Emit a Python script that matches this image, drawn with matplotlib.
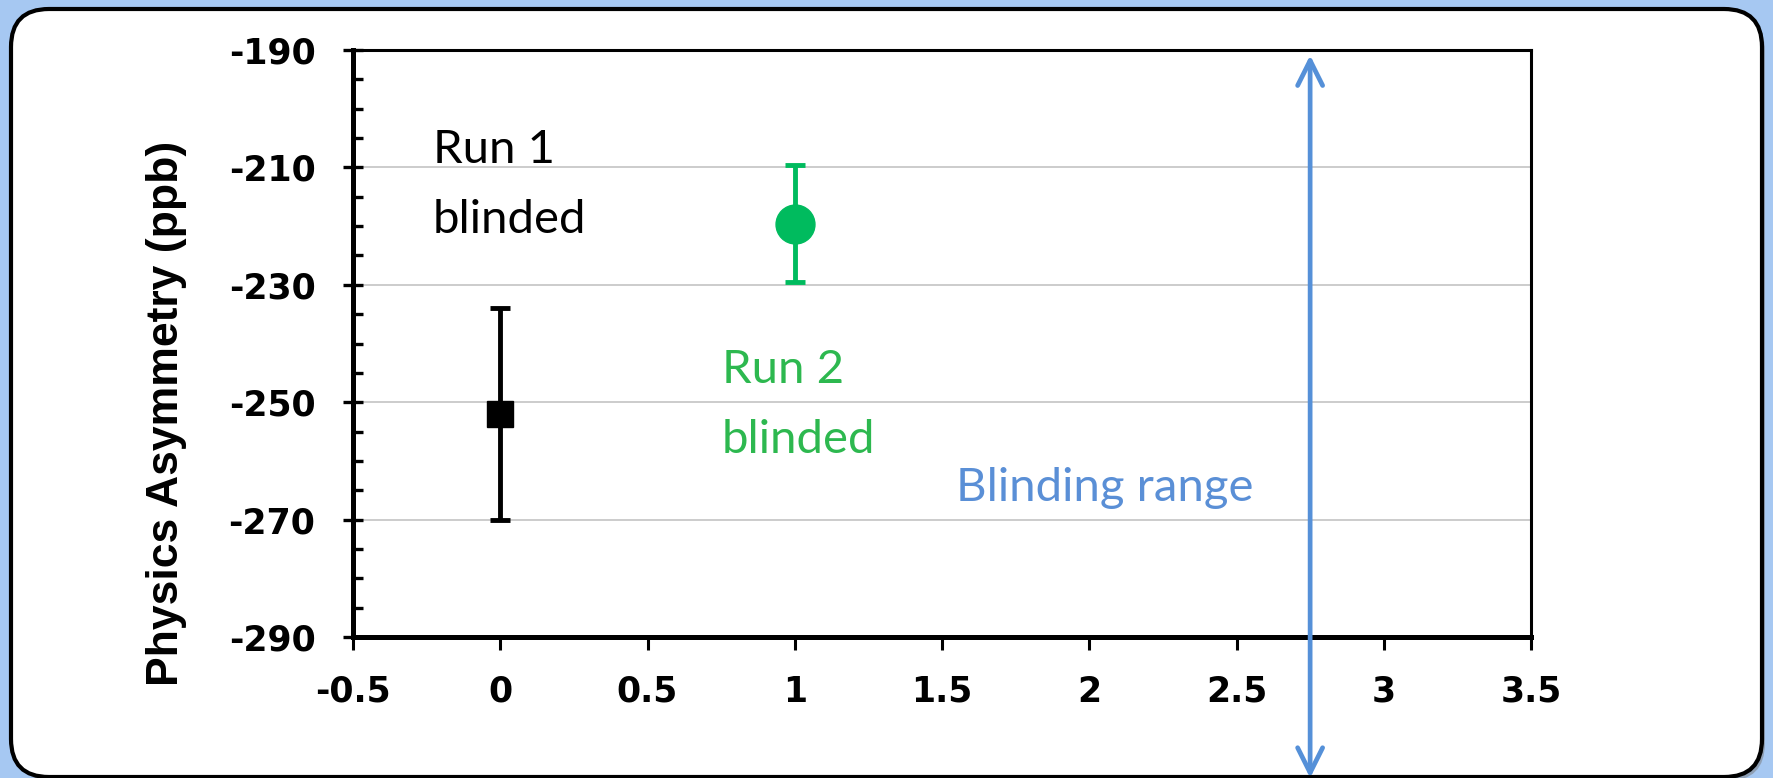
import matplotlib.pyplot as plt
from matplotlib.patches import FancyBboxPatch
from matplotlib.transforms import IdentityTransform
from matplotlib.ticker import MultipleLocator

plt.rcParams['axes.unicode_minus'] = False

# datos
run_x = [0, 1]
run_y = [-252.0, -219.6]
run_err = [18.0, 10.0]
run_colors = ['black', '#00bb5e']
run_markers = ['s', 'o']
run_msize = [19, 28]

blind_x = 2.75
xticks = [-0.5, 0, 0.5, 1, 1.5, 2, 2.5, 3, 3.5]
yticks = [-290, -270, -250, -230, -210, -190]

fig = plt.figure(figsize=(17.73, 7.78), dpi=100)
fig.patch.set_facecolor('#a6c8f2')

# panel blanco con borde redondeado
sombra = FancyBboxPatch((15, -3), 1750, 768, boxstyle='round,pad=0,rounding_size=38',
                        transform=IdentityTransform(), facecolor='#777777', edgecolor='none',
                        alpha=0.5, zorder=-2)
panel = FancyBboxPatch((11, 1), 1751, 768, boxstyle='round,pad=0,rounding_size=38',
                       transform=IdentityTransform(), facecolor='white', edgecolor='black',
                       linewidth=3, zorder=-1)
fig.patches.extend([sombra, panel])

ax = fig.add_axes([353 / 1773, 1 - 637 / 778, 1178 / 1773, 587 / 778])
ax.patch.set_alpha(0)

for x, y, e, c, m, s in zip(run_x, run_y, run_err, run_colors, run_markers, run_msize):
    ax.errorbar(x, y, yerr=e, fmt=m, color=c, markersize=s, elinewidth=3.5,
                capsize=7.5, capthick=3.5, zorder=3)

ax.set_xlim(-0.5, 3.5)
ax.set_ylim(-290, -190)
ax.set_xticks(xticks)
ax.set_xticklabels(['-0.5', '0', '0.5', '1', '1.5', '2', '2.5', '3', '3.5'])
ax.set_yticks(yticks)
ax.yaxis.set_minor_locator(MultipleLocator(5))
ax.grid(axis='y', color='#c8c8c8', linewidth=1.3)
ax.set_axisbelow(True)

for lado in ['left', 'bottom']:
    ax.spines[lado].set_linewidth(3.6)
for lado in ['top', 'right']:
    ax.spines[lado].set_linewidth(2.2)

ax.tick_params(axis='y', which='major', direction='inout', length=14, width=2.4, pad=20)
ax.tick_params(axis='y', which='minor', direction='in', length=7, width=2.4)
ax.tick_params(axis='x', which='major', direction='out', length=9, width=2.2, pad=18)
for lab in ax.get_xticklabels() + ax.get_yticklabels():
    lab.set_fontfamily('DejaVu Sans')
    lab.set_fontweight('bold')
    lab.set_fontsize(25)

ax.text(-0.1585, 0.3816, 'Physics Asymmetry (ppb)', transform=ax.transAxes, rotation=90,
        ha='center', va='center', fontsize=32, fontweight='bold', family='Liberation Sans')

fuente = dict(fontsize=34, family='Lato', va='center', ha='left')
ax.text(-0.23, -207.0, 'Run 1', color='black', **fuente)
ax.text(-0.23, -218.9, 'blinded', color='black', **fuente)
ax.text(0.753, -244.5, 'Run 2', color='#2db84f', **fuente)
ax.text(0.753, -256.5, 'blinded', color='#2db84f', **fuente)
ax.text(1.547, -264.7, 'Blinding range', color='#5a8fd6', **fuente)

# flecha del rango de cegado
ax.annotate('', xy=(blind_x, 0.929), xytext=(blind_x, 0.0),
            xycoords=('data', 'figure fraction'), textcoords=('data', 'figure fraction'),
            arrowprops=dict(arrowstyle='<->,head_length=1.8,head_width=0.9', color='#5590d8',
                            lw=3.4, shrinkA=0, shrinkB=0),
            annotation_clip=False, zorder=4)

fig.savefig('out.png', dpi=100)
